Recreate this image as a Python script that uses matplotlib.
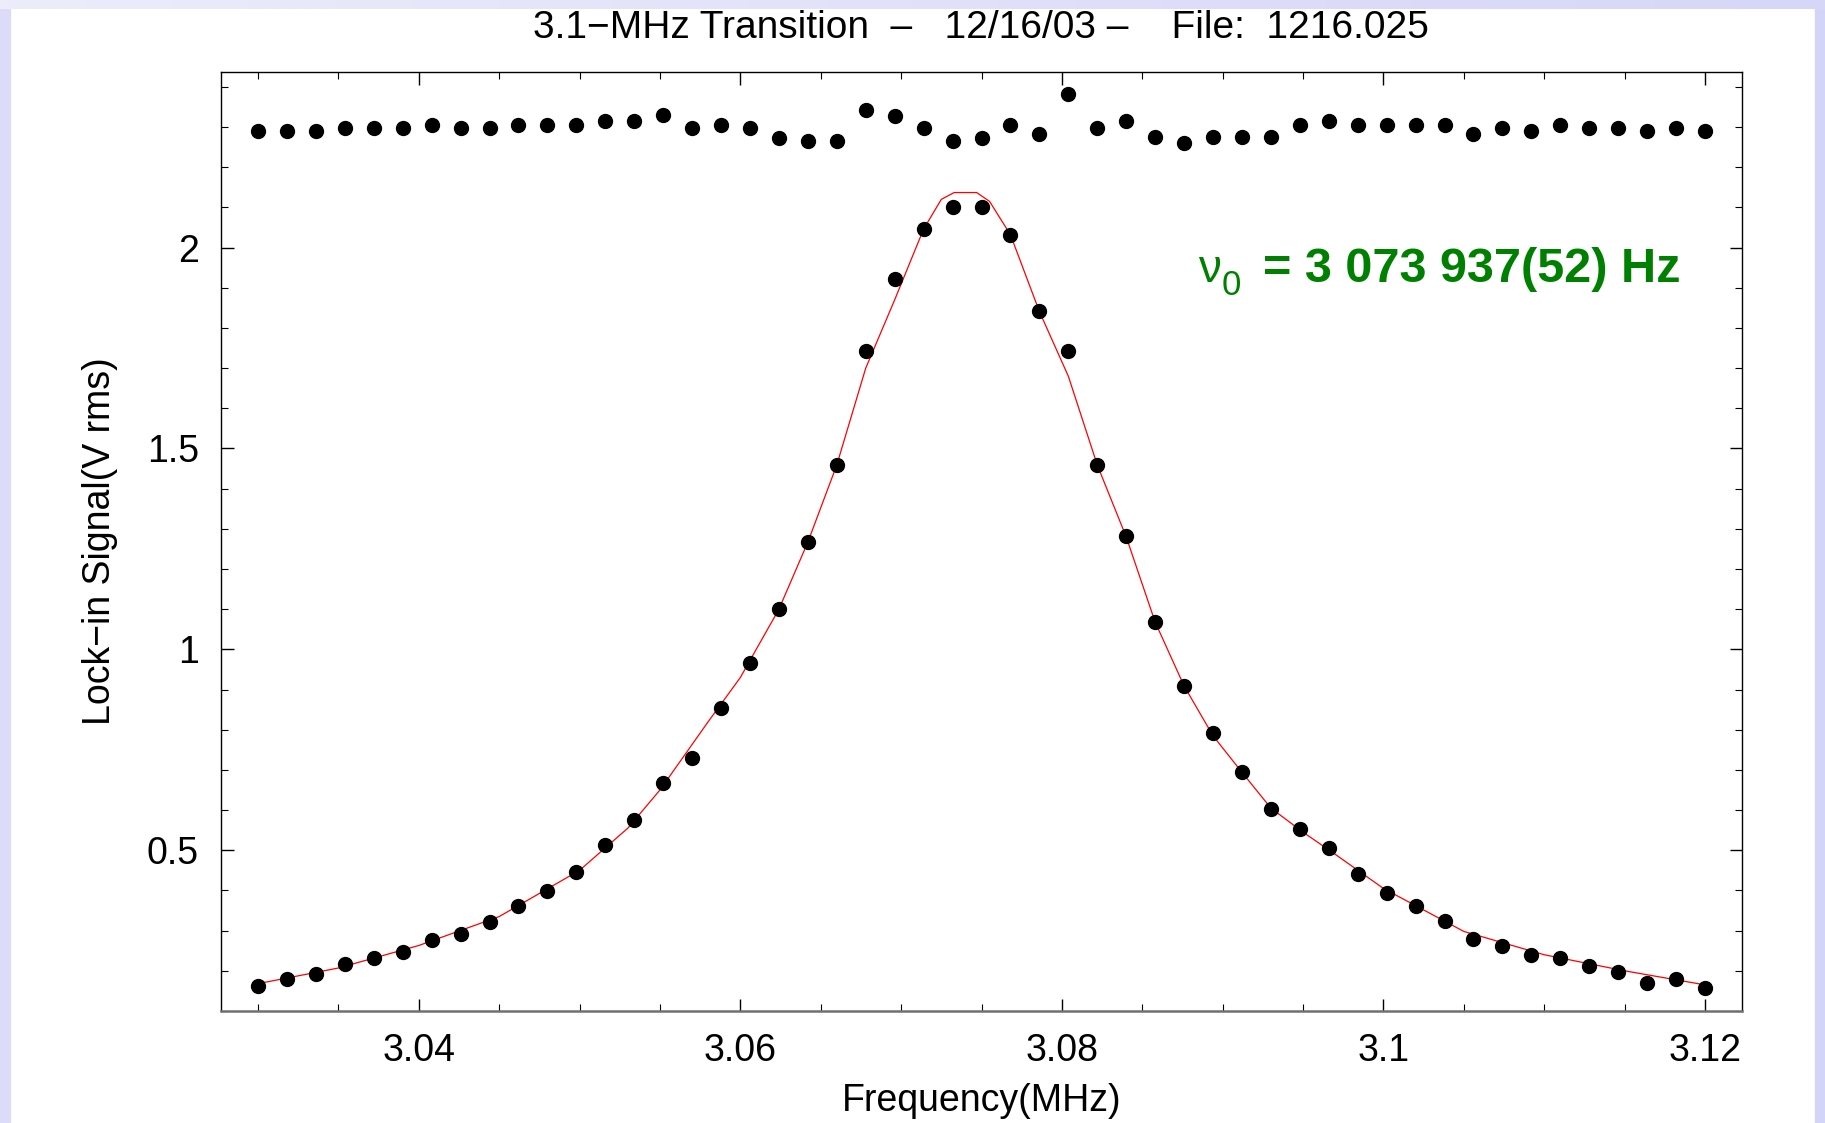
import matplotlib
matplotlib.use("Agg")
import numpy as np
import matplotlib.pyplot as plt
from matplotlib.patches import Rectangle
from matplotlib.ticker import MultipleLocator

plt.rcParams['font.family'] = ['Liberation Sans', 'DejaVu Sans']

# --- data ---
freq = [3.0300, 3.0318, 3.0336, 3.0354, 3.0372, 3.0390, 3.0408, 3.0426, 3.0444,
        3.0462, 3.0480, 3.0498, 3.0516, 3.0534, 3.0552, 3.0570, 3.0588, 3.0606,
        3.0624, 3.0642, 3.0660, 3.0678, 3.0696, 3.0714, 3.0732, 3.0750, 3.0768,
        3.0786, 3.0804, 3.0822, 3.0840, 3.0858, 3.0876, 3.0894, 3.0912, 3.0930,
        3.0948, 3.0966, 3.0984, 3.1002, 3.1020, 3.1038, 3.1056, 3.1074, 3.1092,
        3.1110, 3.1128, 3.1146, 3.1164, 3.1182, 3.1200]

signal = [0.162, 0.179, 0.193, 0.217, 0.231, 0.248, 0.277, 0.292, 0.321, 0.361,
          0.399, 0.445, 0.512, 0.576, 0.668, 0.729, 0.853, 0.966, 1.100, 1.267,
          1.459, 1.742, 1.922, 2.046, 2.101, 2.101, 2.032, 1.841, 1.742, 1.459,
          1.282, 1.068, 0.909, 0.793, 0.694, 0.602, 0.552, 0.506, 0.440, 0.393,
          0.361, 0.324, 0.280, 0.263, 0.240, 0.231, 0.211, 0.196, 0.170, 0.179,
          0.156]

reference = [2.291, 2.291, 2.291, 2.298, 2.298, 2.298, 2.306, 2.298, 2.298, 2.306,
             2.306, 2.306, 2.314, 2.314, 2.329, 2.298, 2.306, 2.298, 2.273, 2.266,
             2.266, 2.343, 2.328, 2.298, 2.266, 2.273, 2.306, 2.283, 2.383, 2.298,
             2.314, 2.276, 2.261, 2.276, 2.276, 2.276, 2.306, 2.314, 2.306, 2.306,
             2.306, 2.306, 2.283, 2.298, 2.291, 2.306, 2.298, 2.298, 2.291, 2.298,
             2.291]

# fitted curve
fit_freq = [3.0300, 3.0350, 3.0400, 3.0450, 3.0500, 3.0530, 3.0550, 3.0580, 3.0600,
            3.0624, 3.0642, 3.0660, 3.0678, 3.0696, 3.0714, 3.0725, 3.0733, 3.0747,
            3.0755, 3.0768, 3.0786, 3.0804, 3.0822, 3.0840, 3.0858, 3.0876, 3.0894,
            3.0912, 3.0930, 3.0950, 3.0970, 3.1000, 3.1050, 3.1100, 3.1150, 3.1200]
fit_signal = [0.168, 0.207, 0.263, 0.335, 0.450, 0.555, 0.650, 0.820, 0.930,
              1.100, 1.267, 1.459, 1.700, 1.870, 2.046, 2.120, 2.137, 2.137,
              2.115, 2.032, 1.841, 1.680, 1.459, 1.280, 1.068, 0.909, 0.785,
              0.694, 0.605, 0.545, 0.490, 0.405, 0.298, 0.240, 0.200, 0.165]

title = "3.1\u2212MHz Transition  \u2013   12/16/03 \u2013    File:  1216.025"

fig = plt.figure(figsize=(18.25, 11.23), dpi=100)

# lavender slide border
fig.add_artist(Rectangle((0, 0), 10 / 1825, 1, transform=fig.transFigure,
                         color='#dcdcf8', zorder=0))
fig.add_artist(Rectangle((1 - 10 / 1825, 0), 10 / 1825, 1, transform=fig.transFigure,
                         color='#d4d4f8', zorder=0))
top = fig.add_axes([0, 1 - 9 / 1123, 1, 9 / 1123])
grad = np.linspace(0, 1, 256).reshape(1, -1)
top.imshow(grad, aspect='auto', cmap=matplotlib.colors.LinearSegmentedColormap.from_list(
    'lav', ['#ececfb', '#d6d6f8']))
top.axis('off')

ax = fig.add_axes([221 / 1825, 1 - 1011 / 1123, 1521 / 1825, 939 / 1123])

ax.plot(fit_freq, fit_signal, color='red', lw=0.9, zorder=2)
ax.plot(freq, signal, 'o', color='black', ms=10, zorder=3)
ax.plot(freq, reference, 'o', color='black', ms=10, zorder=3)

ax.set_xlim(3.0277, 3.1223)
ax.set_ylim(0.1, 2.437)

ax.xaxis.set_minor_locator(MultipleLocator(0.005))
ax.yaxis.set_minor_locator(MultipleLocator(0.1))
ax.set_xticks([3.04, 3.06, 3.08, 3.1, 3.12])
ax.set_xticklabels(['3.04', '3.06', '3.08', '3.1', '3.12'])
ax.set_yticks([0.5, 1, 1.5, 2])
ax.set_yticklabels(['0.5', '1', '1.5', '2'])

ax.tick_params(which='both', direction='in', top=True, right=True, labelsize=27)
ax.tick_params(which='major', length=9, width=1, pad=16)
ax.tick_params(which='minor', length=5, width=0.8)

for s in ax.spines.values():
    s.set_linewidth(1)
ax.spines['bottom'].set_color('#707070')
ax.spines['bottom'].set_linewidth(1.8)

ax.set_xlabel('Frequency(MHz)', fontsize=27)
ax.set_ylabel('Lock\u2212in Signal(V rms)', fontsize=27)
ax.xaxis.set_label_coords(0.5, -0.077)
ax.yaxis.set_label_coords(-0.068, 0.5)

fig.text(981 / 1825, 1 - 28 / 1123, title, fontsize=28, ha='center', va='center')

# fitted centre frequency
green = '#008000'
ax.text(0.6423, 0.7764, '\u03bd', transform=ax.transAxes, fontsize=33,
        color=green, ha='left', va='baseline')
ax.text(0.658, 0.7625, '0', transform=ax.transAxes, fontsize=25,
        color=green, ha='left', va='baseline')
ax.text(0.685, 0.7764, '= 3 073 937(52) Hz', transform=ax.transAxes,
        fontsize=35, fontweight='bold', color=green, ha='left', va='baseline')

fig.savefig('out.png', dpi=100)
